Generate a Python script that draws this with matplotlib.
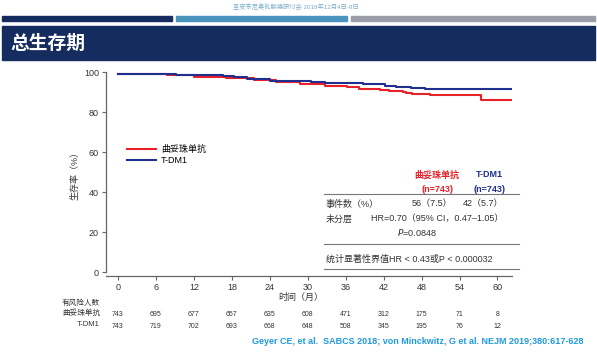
import matplotlib
matplotlib.use("Agg")
import matplotlib.pyplot as plt
from matplotlib.patches import Rectangle
from matplotlib.lines import Line2D

plt.rcParams['font.family'] = ['Liberation Sans', 'Noto Sans CJK SC', 'DejaVu Sans']

# KM curves (months, survival %)
red_t = [0, 7.8, 12, 17, 21.5, 25, 28.8, 32.8, 36.2, 38.1, 41.5, 42.9, 45, 45.6, 46.5, 49.4, 57.4, 62.3]
red_s = [99, 98.3, 97.5, 96.8, 95.8, 94.8, 93.8, 93.2, 92.3, 91.5, 90.8, 90.3, 89.8, 89.3, 89.0, 88.3, 86.2, 86.2]
blue_t = [0, 9.2, 16.6, 18.4, 20.4, 24, 30.5, 32.8, 38.8, 42.2, 44, 46.4, 48.6, 51, 62.5]
blue_s = [99, 98.6, 98.1, 97.6, 96.6, 95.6, 94.9, 94.4, 93.8, 93.2, 92.6, 92.1, 91.6, 91.3, 91.3]

months = [0, 6, 12, 18, 24, 30, 36, 42, 48, 54, 60]
risk_red = [743, 695, 677, 657, 635, 608, 471, 312, 175, 71, 8]
risk_blue = [743, 719, 702, 693, 668, 648, 508, 345, 195, 76, 12]

RED = '#e8202a'
BLUE = '#1f2f8f'
NAVY = '#142c5e'
W, H = 597, 352


def fx(x):
    return x / W


def fy(y):
    return 1 - y / H


fig = plt.figure(figsize=(W / 100, H / 100), dpi=100)

# header
fig.text(fx(296), fy(7), '圣安东尼奥乳腺癌研讨会 2018年12月4日-8日', fontsize=4.5,
         color='#7aaccc', ha='center', va='center')
for x0, x1, c in [(2, 172, NAVY), (176, 347, '#4a93bd'), (351, 595, '#9a9ea8')]:
    fig.patches.append(Rectangle((fx(x0), fy(21)), fx(x1 - x0), 5 / H,
                                 transform=fig.transFigure, color=c))
fig.patches.append(Rectangle((fx(2), fy(60)), fx(593), 34 / H,
                             transform=fig.transFigure, color=NAVY))
fig.text(fx(10), fy(44), '总生存期', fontsize=13.5, color='white',
         fontweight='bold', ha='left', va='center')

ax = fig.add_axes([fx(106), fy(276), fx(406), 206 / H])
ax.step(red_t, red_s, where='post', color=RED, lw=1.5, label='曲妥珠单抗')
ax.step(blue_t, blue_s, where='post', color=BLUE, lw=1.5, label='T-DM1')

ax.set_xlim(-1.9, 62.3)
ax.set_ylim(-2, 101)
ax.set_xticks(months)
ax.set_yticks([0, 20, 40, 60, 80, 100])
ax.spines['top'].set_visible(False)
ax.spines['right'].set_visible(False)
ax.spines['left'].set_bounds(0, 100)
for s in ['left', 'bottom']:
    ax.spines[s].set_color('#666666')
    ax.spines[s].set_linewidth(0.9)
ax.tick_params(labelsize=6.5, colors='#666666', labelcolor='#333333', length=3, width=0.8, pad=2)
ax.set_ylabel('生存率（%）', fontsize=6.5, color='#333333', labelpad=3)

ax.legend(loc='upper left', bbox_to_anchor=(0.04, 0.66), frameon=False,
          fontsize=6.5, handlelength=3.2, borderpad=0, labelspacing=0.3,
          handletextpad=0.6)

# results box
fig.text(fx(437), fy(175), '曲妥珠单抗', fontsize=6.5, color=RED, fontweight='bold', ha='center', va='center')
fig.text(fx(437), fy(190), '(n=743)', fontsize=6.5, color=RED, fontweight='bold', ha='center', va='center')
fig.text(fx(489), fy(175), 'T-DM1', fontsize=6.5, color=BLUE, fontweight='bold', ha='center', va='center')
fig.text(fx(489), fy(190), '(n=743)', fontsize=6.5, color=BLUE, fontweight='bold', ha='center', va='center')
for yl in [194, 244, 269]:
    fig.add_artist(Line2D([fx(324), fx(519)], [fy(yl), fy(yl)], color='#777777', lw=0.8))
fig.text(fx(326), fy(204), '事件数（%）', fontsize=6.5, color='#333333', va='center')
fig.text(fx(452), fy(204), '56（7.5）', fontsize=6.5, color='#333333', va='center', ha='right')
fig.text(fx(503), fy(204), '42（5.7）', fontsize=6.5, color='#333333', va='center', ha='right')
fig.text(fx(326), fy(219), '未分层', fontsize=6.5, color='#333333', va='center')
fig.text(fx(503), fy(219), 'HR=0.70（95% CI，0.47–1.05）', fontsize=6.5, color='#333333', va='center', ha='right')
fig.text(fx(397), fy(233), '$\\it{P}$=0.0848', fontsize=6.5, color='#333333', va='center')
fig.text(fx(326), fy(259), '统计显著性界值HR < 0.43或P < 0.000032', fontsize=6.5, color='#333333', va='center')

# x label and risk table
fig.text(fx(301), fy(297), '时间（月）', fontsize=6.5, color='#333333', ha='center', va='center')
fig.text(fx(100), fy(303), '有风险人数', fontsize=5.5, color='#333333', ha='right', va='center')
fig.text(fx(100), fy(313), '曲妥珠单抗', fontsize=5.5, color='#333333', ha='right', va='center')
fig.text(fx(100), fy(325), 'T-DM1', fontsize=5.5, color='#333333', ha='right', va='center')
for m, r, b in zip(months, risk_red, risk_blue):
    xf = ax.transData.transform((m, 0))[0] / fig.bbox.width
    fig.text(xf, fy(314), str(r), fontsize=5, color='#333333', ha='center', va='center')
    fig.text(xf, fy(326), str(b), fontsize=5, color='#333333', ha='center', va='center')

fig.text(fx(583), fy(342), 'Geyer CE, et al.  SABCS 2018; von Minckwitz, G et al. NEJM 2019;380:617-628',
         fontsize=6.5, color='#1e9be0', fontweight='bold', ha='right', va='center')

fig.savefig('out.png', dpi=100)
